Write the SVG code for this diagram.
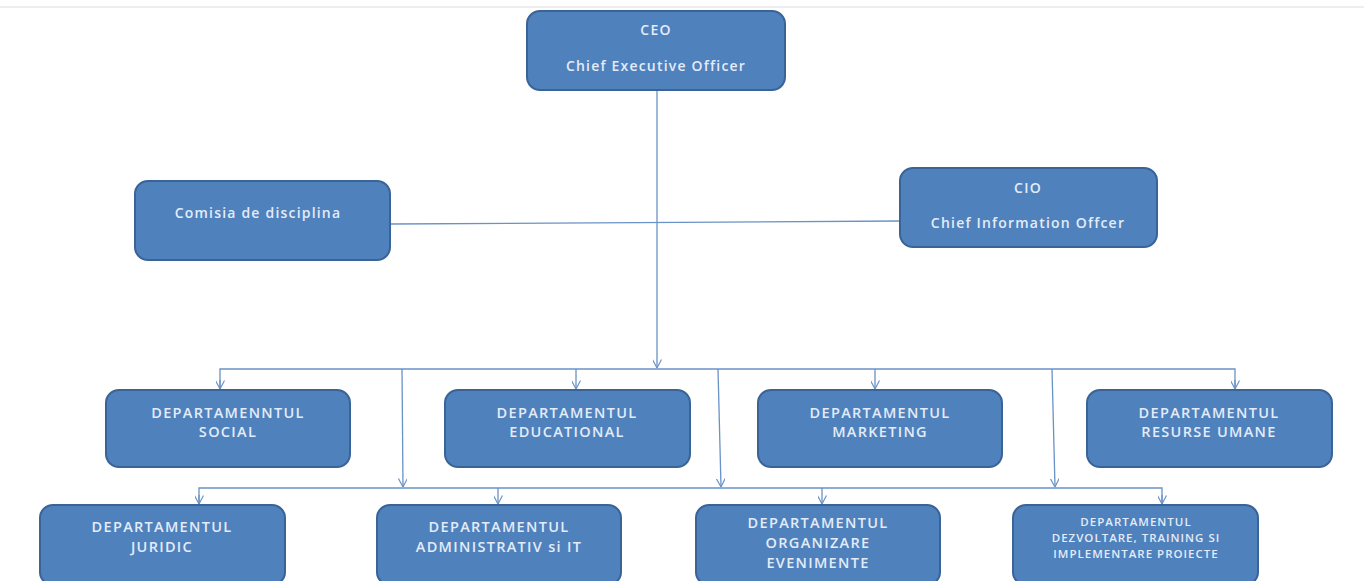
<svg xmlns="http://www.w3.org/2000/svg" width="1364" height="581" viewBox="0 0 1364 581">
<style>
.box{fill:#4f81bd;stroke:#3a6396;stroke-width:2}
.t{font-family:"Open Sans","Liberation Sans",sans-serif;fill:#e3ecf8;text-anchor:middle;font-size:14px;font-weight:600;letter-spacing:1.2px}
.c{font-family:"Open Sans","Liberation Sans",sans-serif;fill:#e3ecf8;text-anchor:middle;font-size:14.5px;font-weight:600;letter-spacing:1.3px}
.s{font-family:"Open Sans","Liberation Sans",sans-serif;fill:#e3ecf8;text-anchor:middle;font-size:11.5px;font-weight:600;letter-spacing:1px}
.ln{fill:none;stroke:#6a92c6;stroke-width:1.3}
</style>
<defs>
<marker id="ah" viewBox="0 0 10 10" refX="9.5" refY="5" markerWidth="9" markerHeight="9" markerUnits="userSpaceOnUse" orient="auto">
<path d="M0,0 L9.5,5 L0,10" fill="none" stroke="#6a92c6" stroke-width="1.3"/>
</marker>
</defs>
<rect width="1364" height="581" fill="#ffffff"/>
<line x1="0" y1="7" x2="1364" y2="7" stroke="#eeeeee" stroke-width="2"/>
<g id="connectors">
<line class="ln" x1="390" y1="224" x2="900" y2="221"/>
<line class="ln" x1="657" y1="90" x2="657" y2="368" marker-end="url(#ah)"/>
<polyline class="ln" points="220,389 220,369 1235,369 1235,389" />
<line class="ln" x1="220" y1="380" x2="220" y2="389" marker-end="url(#ah)"/>
<line class="ln" x1="576" y1="369" x2="576" y2="389" marker-end="url(#ah)"/>
<line class="ln" x1="875" y1="369" x2="875" y2="389" marker-end="url(#ah)"/>
<line class="ln" x1="1235" y1="380" x2="1235" y2="389" marker-end="url(#ah)"/>
<line class="ln" x1="402" y1="369" x2="403" y2="487" marker-end="url(#ah)"/>
<line class="ln" x1="718" y1="369" x2="721" y2="487" marker-end="url(#ah)"/>
<line class="ln" x1="1052" y1="369" x2="1055" y2="487" marker-end="url(#ah)"/>
<polyline class="ln" points="199,504 199,488 1162,488 1162,504"/>
<line class="ln" x1="199" y1="495" x2="199" y2="504" marker-end="url(#ah)"/>
<line class="ln" x1="498" y1="488" x2="498" y2="504" marker-end="url(#ah)"/>
<line class="ln" x1="822" y1="488" x2="822" y2="504" marker-end="url(#ah)"/>
<line class="ln" x1="1162" y1="495" x2="1162" y2="504" marker-end="url(#ah)"/>
</g>
<g id="ceo"><rect class="box" x="527" y="11" width="258" height="79" rx="13"/>
<text class="t" x="656" y="35">CEO</text><text class="t" x="656" y="71">Chief Executive Officer</text></g>
<g id="comisia"><rect class="box" x="135" y="181" width="255" height="79" rx="13"/>
<text class="t" x="258" y="218">Comisia de disciplina</text></g>
<g id="cio"><rect class="box" x="900" y="168" width="257" height="79" rx="13"/>
<text class="t" x="1028" y="193">CIO</text><text class="t" x="1028" y="228">Chief Information Offcer</text></g>
<g id="social"><rect class="box" x="106" y="390" width="244" height="77" rx="13"/>
<text class="c" x="228" y="418">DEPARTAMENNTUL</text><text class="c" x="228" y="437">SOCIAL</text></g>
<g id="educational"><rect class="box" x="445" y="390" width="245" height="77" rx="13"/>
<text class="c" x="567" y="418">DEPARTAMENTUL</text><text class="c" x="567" y="437">EDUCATIONAL</text></g>
<g id="marketing"><rect class="box" x="758" y="390" width="244" height="77" rx="13"/>
<text class="c" x="880" y="418">DEPARTAMENTUL</text><text class="c" x="880" y="437">MARKETING</text></g>
<g id="resurse"><rect class="box" x="1087" y="390" width="245" height="77" rx="13"/>
<text class="c" x="1209" y="418">DEPARTAMENTUL</text><text class="c" x="1209" y="437">RESURSE UMANE</text></g>
<g id="juridic"><rect class="box" x="40" y="505" width="245" height="80" rx="13"/>
<text class="c" x="162" y="532">DEPARTAMENTUL</text><text class="c" x="162" y="552">JURIDIC</text></g>
<g id="administrativ"><rect class="box" x="377" y="505" width="244" height="80" rx="13"/>
<text class="c" x="499" y="532">DEPARTAMENTUL</text><text class="c" x="499" y="552">ADMINISTRATIV si IT</text></g>
<g id="organizare"><rect class="box" x="696" y="505" width="244" height="80" rx="13"/>
<text class="c" x="818" y="528">DEPARTAMENTUL</text><text class="c" x="818" y="548">ORGANIZARE</text><text class="c" x="818" y="568">EVENIMENTE</text></g>
<g id="dezvoltare"><rect class="box" x="1013" y="505" width="245" height="80" rx="13"/>
<text class="s" x="1136" y="526">DEPARTAMENTUL</text><text class="s" x="1136" y="542">DEZVOLTARE, TRAINING SI</text><text class="s" x="1136" y="558">IMPLEMENTARE PROIECTE</text></g>
</svg>
